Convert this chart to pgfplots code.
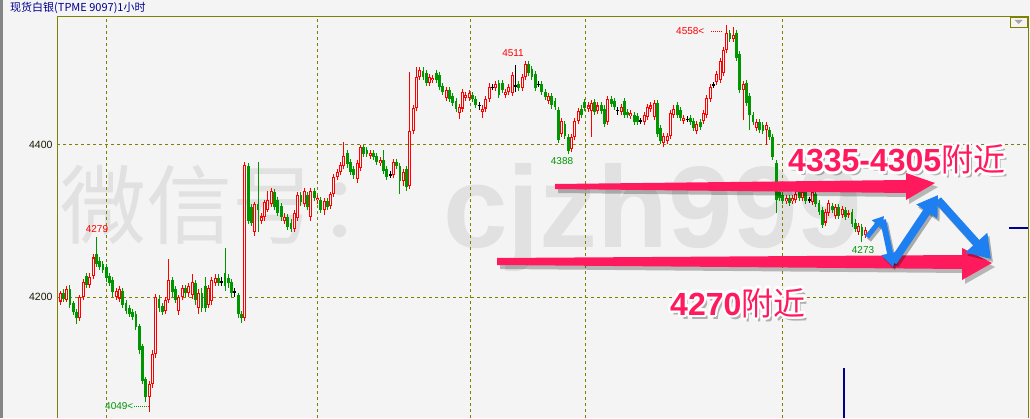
\documentclass[border=0pt]{standalone}
\usepackage{fontspec}
\usepackage{pgfplots}
\usepackage{pgfplotstable}
\pgfplotsset{compat=1.18}
\usetikzlibrary{arrows.meta}
\setmainfont{Liberation Sans}
\newfontfamily\cjk{Noto Sans CJK SC}
\definecolor{bg}{HTML}{F4F4F4}
\definecolor{olivec}{HTML}{808000}
\definecolor{cred}{HTML}{FF0000}
\definecolor{cgreen}{HTML}{009600}
\definecolor{wm}{HTML}{E1E1E1}
\definecolor{pinkc}{HTML}{FF1A5E}
\definecolor{bluec}{HTML}{1E80F0}
\definecolor{navyc}{HTML}{000090}

\pgfplotstableread{
o h l c
4194 4208 4190 4205
4205 4210 4194 4198
4196 4214 4193 4211
4211 4216 4186 4190
4192 4195 4176 4180
4180 4184 4165 4172
4172 4202 4168 4200
4200 4224 4196 4220
4228 4232 4212 4216
4216 4232 4212 4226
4228 4256 4224 4252
4256 4279 4240 4244
4248 4252 4236 4240
4244 4248 4232 4236
4240 4244 4220 4225
4228 4232 4214 4218
4222 4226 4200 4206
4200 4212 4196 4208
4198 4214 4194 4210
4208 4212 4186 4190
4192 4196 4178 4182
4185 4190 4174 4178
4180 4184 4170 4174
4178 4182 4156 4160
4162 4165 4125 4130
4135 4138 4085 4090
4092 4095 4062 4068
4068 4090 4049 4085
4085 4130 4080 4125
4125 4204 4120 4200
4198 4202 4180 4185
4188 4192 4176 4180
4182 4200 4178 4196
4196 4250 4192 4222
4222 4226 4200 4206
4210 4214 4192 4196
4182 4203 4176 4200
4200 4216 4196 4212
4212 4216 4200 4205
4205 4218 4200 4214
4202 4230 4198 4220
4218 4222 4190 4196
4185 4210 4178 4205
4205 4212 4180 4186
4215 4226 4180 4185
4190 4216 4186 4212
4195 4226 4190 4222
4218 4230 4214 4225
4225 4230 4214 4218
4220 4226 4214 4220
4232 4265 4208 4214
4225 4230 4212 4218
4220 4224 4200 4205
4207 4212 4200 4207
4202 4205 4172 4178
4178 4182 4166 4172
4172 4378 4168 4374
4372 4376 4296 4300
4318 4322 4294 4298
4286 4325 4280 4322
4322 4378 4286 4315
4300 4310 4296 4306
4305 4328 4300 4325
4315 4340 4312 4328
4322 4344 4318 4340
4338 4342 4314 4318
4328 4332 4306 4310
4320 4324 4300 4305
4300 4310 4296 4305
4305 4309 4288 4292
4298 4302 4286 4290
4290 4314 4286 4310
4304 4338 4300 4334
4334 4338 4320 4325
4322 4344 4318 4340
4334 4338 4314 4318
4305 4344 4300 4340
4340 4344 4326 4330
4327 4334 4322 4330
4328 4332 4310 4315
4314 4330 4308 4326
4326 4330 4314 4318
4320 4338 4316 4335
4335 4362 4332 4358
4358 4368 4354 4364
4364 4378 4360 4374
4372 4404 4368 4385
4390 4394 4370 4375
4378 4382 4360 4365
4368 4372 4355 4360
4355 4380 4350 4376
4370 4400 4366 4397
4397 4400 4384 4388
4394 4398 4384 4388
4386 4394 4382 4390
4390 4394 4380 4384
4386 4390 4374 4378
4376 4384 4372 4380
4380 4393 4362 4366
4368 4372 4354 4358
4361 4366 4356 4361
4360 4382 4356 4378
4378 4382 4368 4372
4372 4376 4336 4352
4352 4368 4346 4364
4368 4372 4340 4345
4346 4496 4342 4418
4418 4452 4414 4449
4449 4503 4445 4490
4490 4503 4486 4499
4498 4502 4486 4490
4495 4499 4478 4482
4482 4494 4478 4490
4485 4492 4481 4488
4495 4499 4481 4485
4492 4496 4472 4476
4478 4482 4466 4470
4462 4476 4458 4472
4472 4476 4456 4460
4465 4469 4451 4455
4458 4462 4444 4448
4442 4454 4434 4450
4448 4474 4444 4470
4462 4470 4458 4466
4462 4472 4458 4468
4466 4470 4456 4460
4460 4464 4449 4453
4452 4456 4446 4452
4443 4452 4435 4448
4448 4464 4444 4460
4460 4482 4456 4476
4476 4480 4472 4476
4475 4484 4471 4480
4482 4486 4462 4466
4482 4486 4468 4472
4466 4474 4462 4470
4470 4480 4466 4476
4468 4496 4464 4492
4478 4505 4470 4478
4480 4484 4471 4475
4475 4494 4471 4490
4490 4511 4486 4506
4506 4510 4491 4495
4500 4504 4486 4490
4494 4498 4471 4475
4480 4484 4476 4480
4480 4484 4466 4470
4470 4474 4459 4463
4458 4468 4454 4464
4464 4468 4448 4452
4458 4462 4446 4450
4446 4450 4403 4407
4415 4436 4411 4432
4428 4432 4408 4412
4410 4414 4388 4392
4395 4414 4391 4410
4410 4436 4406 4432
4432 4449 4428 4445
4448 4452 4436 4440
4457 4461 4445 4449
4447 4456 4443 4452
4445 4459 4411 4455
4457 4461 4439 4443
4445 4456 4441 4452
4452 4456 4441 4445
4448 4452 4424 4428
4430 4464 4426 4460
4460 4464 4450 4454
4458 4462 4446 4450
4446 4450 4440 4446
4443 4454 4439 4450
4458 4462 4436 4440
4444 4448 4436 4440
4438 4446 4434 4442
4440 4444 4426 4430
4438 4442 4426 4430
4432 4436 4428 4432
4430 4444 4426 4440
4437 4454 4433 4450
4447 4456 4443 4452
4437 4459 4433 4455
4455 4459 4411 4415
4422 4426 4401 4405
4402 4416 4398 4412
4405 4416 4401 4412
4412 4446 4408 4442
4440 4452 4436 4448
4452 4456 4436 4440
4446 4450 4432 4436
4432 4440 4428 4436
4434 4438 4430 4434
4436 4440 4426 4430
4432 4436 4418 4422
4418 4432 4414 4428
4430 4434 4420 4424
4432 4446 4428 4442
4440 4466 4436 4462
4460 4480 4456 4476
4479 4483 4475 4479
4483 4497 4479 4493
4485 4514 4481 4510
4495 4529 4491 4525
4525 4558 4521 4547
4547 4551 4536 4540
4540 4555 4536 4545
4547 4551 4511 4515
4520 4524 4468 4472
4472 4484 4433 4480
4482 4486 4451 4455
4465 4469 4420 4440
4440 4444 4426 4430
4422 4434 4418 4430
4430 4434 4416 4420
4426 4430 4414 4418
4420 4430 4400 4426
4420 4424 4406 4410
4410 4414 4380 4384
4376 4380 4310 4328
4338 4342 4326 4330
4334 4338 4322 4326
4326 4334 4322 4330
4330 4334 4320 4324
4326 4334 4322 4330
4328 4340 4324 4336
4338 4342 4326 4330
4330 4342 4326 4338
4338 4342 4322 4326
4328 4332 4324 4328
4325 4342 4321 4338
4336 4340 4318 4322
4324 4328 4308 4312
4314 4318 4291 4295
4298 4316 4294 4312
4310 4328 4306 4324
4320 4324 4310 4314
4306 4322 4302 4318
4318 4322 4302 4306
4308 4320 4304 4316
4314 4318 4301 4305
4308 4314 4304 4310
4312 4316 4292 4296
4298 4302 4286 4290
4286 4298 4282 4294
4292 4296 4273 4280
4282 4292 4278 4288
}\candles

\newcommand{\bigtext}[3]{%
  \node[anchor=base west, inner sep=0, text=black, opacity=0.28] at (#1+3,#2-4) {#3};
  \foreach \a in {0,30,...,330}{\node[anchor=base west, inner sep=0, text=white] at ({#1+2.4*cos(\a)},{#2+2.4*sin(\a)}) {#3};}
  \node[anchor=base west, inner sep=0, text=pinkc] at (#1,#2) {#3};
}

\begin{document}
\begin{tikzpicture}[x=1pt,y=1pt]
\fill[bg] (0,0) rectangle (1030,418);
\fill[black!48] (0,0) rectangle (2.8,418);
% watermark
\node[anchor=base west, inner sep=0, text=wm, font=\cjk\fontsize{86}{86}\selectfont] at (60,180) {微信号：};
\node[anchor=base west, inner sep=0, text=wm, font=\bfseries\fontsize{116}{116}\selectfont] at (443,171) {cjzh999};

\begin{axis}[at={(57pt,0pt)}, anchor=south west, scale only axis,
  width=971pt, height=401pt,
  xmin=-0.909, xmax=293.33, ymin=4040.8, ymax=4568.4,
  axis line style={draw=none},
  ytick={4200,4400}, yticklabels={4200,4400},
  xtick={13.94,77.88,124.24,159.09,218.79}, xticklabels={},
  major tick length=0pt,
  grid=major,
  major grid style={olivec, dash pattern=on 3pt off 3pt, line width=1pt},
  yticklabel style={font=\fontsize{10.5}{11}\selectfont, text=black!80!olivec, xshift=-1pt},
  /pgf/number format/assume math mode=true,
  clip=true]
% wicks
\addplot[draw=none, forget plot, error bars/.cd, y dir=both, y explicit, error mark=none,
  error bar style={draw=cred, line width=1pt}]
  table[x expr=\coordindex, y expr={\thisrow{c}>\thisrow{o} ? (\thisrow{h}+\thisrow{l})/2 : nan}, y error expr={(\thisrow{h}-\thisrow{l})/2}] {\candles};
\addplot[draw=none, forget plot, error bars/.cd, y dir=both, y explicit, error mark=none,
  error bar style={draw=cgreen, line width=1pt}]
  table[x expr=\coordindex, y expr={\thisrow{c}<\thisrow{o} ? (\thisrow{h}+\thisrow{l})/2 : nan}, y error expr={(\thisrow{h}-\thisrow{l})/2}] {\candles};
\addplot[draw=none, forget plot, error bars/.cd, y dir=both, y explicit, error mark=none,
  error bar style={draw=black, line width=1pt}]
  table[x expr=\coordindex, y expr={\thisrow{c}==\thisrow{o} ? (\thisrow{h}+\thisrow{l})/2 : nan}, y error expr={(\thisrow{h}-\thisrow{l})/2}] {\candles};
% bodies
\addplot[draw=none, forget plot, error bars/.cd, y dir=both, y explicit, error mark=none,
  error bar style={draw=cred, line width=3pt}]
  table[x expr=\coordindex, y expr={\thisrow{c}>\thisrow{o} ? (\thisrow{c}+\thisrow{o})/2 : nan}, y error expr={max((\thisrow{c}-\thisrow{o})/2,0.7)}] {\candles};
\addplot[draw=none, forget plot, error bars/.cd, y dir=both, y explicit, error mark=none,
  error bar style={draw=bg, line width=1pt}]
  table[x expr=\coordindex, y expr={\thisrow{c}>\thisrow{o} ? (\thisrow{c}+\thisrow{o})/2 : nan}, y error expr={max((\thisrow{c}-\thisrow{o})/2-1.4,0)}] {\candles};
\addplot[draw=none, forget plot, error bars/.cd, y dir=both, y explicit, error mark=none,
  error bar style={draw=cgreen, line width=2.8pt}]
  table[x expr=\coordindex, y expr={\thisrow{c}<\thisrow{o} ? (\thisrow{c}+\thisrow{o})/2 : nan}, y error expr={max((\thisrow{o}-\thisrow{c})/2,0.7)}] {\candles};
\addplot[draw=none, forget plot, error bars/.cd, y dir=both, y explicit, error mark=none,
  error bar style={draw=black, line width=3pt}]
  table[x expr=\coordindex, y expr={\thisrow{c}==\thisrow{o} ? \thisrow{c} : nan}, y error expr={0.6}] {\candles};
\draw[navyc, line width=1.3pt] (axis cs:237.6,4040.8) -- (axis cs:237.6,4106);
\end{axis}

% frame
\draw[olivec, line width=1pt] (57.5,0) -- (57.5,401) -- (1028,401) -- (1028,0);
\draw[olivec, line width=0.8pt] (1010,401) rectangle (1027,391);
\fill[black!35] (1014.5,398) -- (1022.5,398) -- (1018.5,394) -- cycle;
\draw[navyc, line width=1.2pt] (1009,190) -- (1028,190);

% title
\node[anchor=west, inner sep=0, text=navyc, font=\cjk\fontsize{11}{12}\selectfont] at (10,410) {现货白银(TPME 9097)1小时};

% extreme labels
\node[text=cred, font=\fontsize{10}{10}\selectfont, inner sep=0] at (97,189) {4279};
\node[text=cred, font=\fontsize{10}{10}\selectfont, inner sep=0] at (513,365) {4511};
\node[text=cgreen, font=\fontsize{10}{10}\selectfont, inner sep=0] at (562,257) {4388};
\node[text=cgreen, font=\fontsize{10}{10}\selectfont, inner sep=0] at (863,168) {4273};
\node[anchor=west, text=cred, font=\fontsize{10}{10}\selectfont, inner sep=0] at (676,387) {4558<};
\draw[cred, line width=0.8pt, dash pattern=on 1pt off 1pt] (711,387) -- (722,387);
\node[anchor=west, text=cgreen, font=\fontsize{10}{10}\selectfont, inner sep=0] at (105,12) {4049<};
\draw[cgreen, line width=0.8pt, dash pattern=on 1pt off 1pt] (134,12) -- (149,12);

% pink arrows (shadow, then arrow)
\fill[black, opacity=0.25] (558,230) -- (909,234) -- (909,241) -- (938,231) -- (909,214) -- (909,221) -- (558,225) -- cycle;
\fill[pinkc] (555,234) -- (906,238) -- (906,245) -- (935,235) -- (906,218) -- (906,225) -- (555,229) -- cycle;
\fill[black, opacity=0.25] (500,156) -- (965,159) -- (965,166) -- (995,151) -- (965,134) -- (965,145) -- (500,149) -- cycle;
\fill[pinkc] (497,160) -- (962,163) -- (962,170) -- (992,155) -- (962,138) -- (962,149) -- (497,153) -- cycle;

% blue zigzag arrows
\begin{scope}[opacity=0.3, shift={(2,-3)}]
\draw[black, line width=5pt, -{Triangle[width=13pt,length=11pt]}] (867,181) -- (884,202);
\draw[black, line width=6pt, -{Triangle[width=17pt,length=14pt]}] (883,198) -- (893,151);
\draw[black, line width=8pt, -{Triangle[width=24pt,length=20pt]}] (893,156) -- (938,223);
\draw[black, line width=8pt, -{Triangle[width=28pt,length=22pt]}] (938,218) -- (991,159);
\end{scope}
\draw[bluec, line width=5pt, -{Triangle[width=13pt,length=11pt]}] (867,181) -- (884,202);
\draw[bluec, line width=6pt, -{Triangle[width=17pt,length=14pt]}] (883,198) -- (893,151);
\draw[bluec, line width=8pt, -{Triangle[width=24pt,length=20pt]}] (893,156) -- (938,223);
\draw[bluec, line width=8pt, -{Triangle[width=28pt,length=22pt]}] (938,218) -- (991,159);

% big annotations
\bigtext{788}{246}{\fontsize{32}{32}\selectfont\bfseries 4335-4305{\cjk\mdseries 附近}}
\bigtext{670}{103}{\fontsize{32}{32}\selectfont\bfseries 4270{\cjk\mdseries 附近}}
\pgfresetboundingbox
\path[use as bounding box] (0,0) rectangle (1030,418);
\end{tikzpicture}
\end{document}
